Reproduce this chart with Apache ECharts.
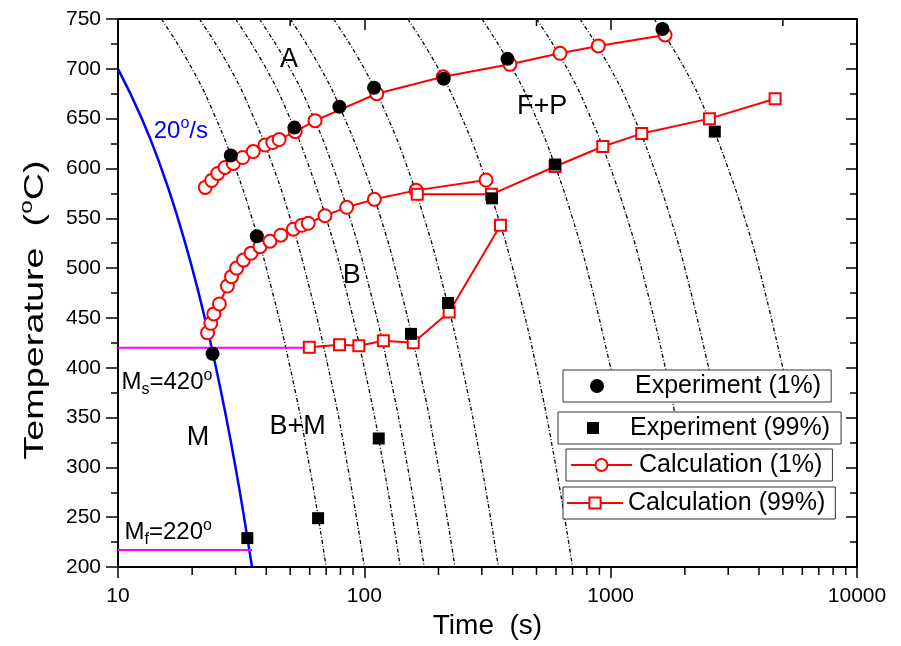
<!DOCTYPE html>
<html><head><meta charset="utf-8">
<script src="https://cdn.jsdelivr.net/npm/echarts@6/dist/echarts.min.js"></script>
<style>html,body{margin:0;padding:0;background:#fff}#c{width:901px;height:646px}</style>
</head><body><div id="c"></div>
<script>
const FONT = '"Liberation Sans", Arial, Helvetica, sans-serif';

// ---- axes ----
const xMin = 10, xMax = 10000;
const yMin = 200, yMax = 750, yStep = 50;
const bottomMinorTicks = [20,30,40,50,60,70,80,90,200,300,400,500,600,700,800,900,2000,3000,4000,5000,6000,7000,8000,9000];
const topMinorTicks = [50, 500, 5000];

// ---- experiment points [time s, temperature C] ----
const exp1 = [[24.2,414],[28.7,613],[36.6,532],[52,641],[79.2,662],[109.5,681],[210,690],[381,710],[1622,740]];
const exp99 = [[33.5,229],[64.9,249],[114.4,329],[154.7,434],[218.7,465],[330,570],[595,604],[2647,637]];

// ---- calculation points ----
const calc1Upper = [[22.6,581],[24.0,588],[25.4,595],[27.2,601],[29.4,605],[32.1,611],[35.4,617],[39.5,623.5],[42.5,626],[45.1,629],[52.4,637],[63.1,648],[112.3,675],[209,692],[390,704.5],[623,715.6],[891,723],[1663,734]];
const calc1Lower = [[23.1,435],[23.8,444.6],[24.5,454],[25.8,464],[27.8,482],[28.9,491.4],[30.3,500],[32.3,508],[34.7,515],[37.7,521.5],[41.4,527],[45.8,533],[51.5,539],[55.7,543],[59.2,545],[69.2,552.6],[84.8,561],[109.8,569],[162.2,578],[312,588.4]];
const calc99Lower = [[59.8,420.5],[79.3,423],[95,422],[119.5,427],[158,425],[221,456],[357,543]];
const calc99Upper = [[164,574],[328,574],[595,602],[929,622],[1337,635],[2517,650],[4651,670]];

// ---- cooling curves [time, temperature] ----
const cool20 = [[10,700],[12.5,650],[15,600],[17.5,550],[20,500],[22.5,450],[25,400],[27.5,350],[30,300],[32.5,250],[35,200]];
const cool10 = [[15,750],[20,700],[25,650],[30,600],[35,550],[40,500],[50,400],[60,300],[70,200]];
const cool7 = [[21.4,750],[28.6,700],[35.7,650],[42.9,600],[50,550],[57.1,500],[71.4,400],[85.7,300],[100,200]];
const cool5 = [[30,750],[40,700],[50,650],[60,600],[70,550],[80,500],[100,400],[120,300],[140,200]];
const cool4 = [[37.5,750],[50,700],[62.5,650],[75,600],[87.5,550],[100,500],[125,400],[150,300],[175,200]];
const cool3 = [[50,750],[66.7,700],[83.3,650],[100,600],[116.7,550],[133.3,500],[166.7,400],[200,300],[233.3,200]];
const cool2 = [[75,750],[100,700],[125,650],[150,600],[175,550],[200,500],[250,400],[300,300],[350,200]];
const cool1 = [[150,750],[200,700],[250,650],[300,600],[350,550],[400,500],[500,400],[600,300],[700,200]];
const cool05 = [[300,750],[400,700],[500,650],[600,600],[700,550],[800,500],[1000,400],[1040,380]];
const cool03 = [[500,750],[667,700],[833,650],[1000,600],[1167,550],[1333,500],[1667,400],[1867,340]];
const cool02 = [[750,750],[1000,700],[1250,650],[1500,600],[1750,550],[2000,500],[2500,400],[2600,380]];
const cool01 = [[1500,750],[2000,700],[2500,650],[3000,600],[3500,550],[4000,500],[5000,400],[5200,380]];
const blackCurves = [cool10, cool7, cool5, cool4, cool3, cool2, cool1, cool05, cool03, cool02, cool01];

// ---- Ms / Mf lines ----
const msLine = [[10,420],[57.5,420]];
const mfLine = [[10,217],[35,217]];

// ---- annotations ----
const phaseLabels = ['A','F+P','B','B+M','M'];
const phasePos = [[49.5,709],[527,662],[89,493],[53.6,340.5],[21.1,329.5]];
const rateLabelPos = [18.0,637.6];
const msLabelPos = [10.28,385.5];
const mfLabelPos = [10.58,235];

const legendNames = ['Experiment (1%)','Experiment (99%)','Calculation (1%)','Calculation (99%)'];

const richSS = {
  n: {fontSize: 24, fontFamily: FONT, lineHeight: 30, color: '#000'},
  sub: {fontSize: 16, fontFamily: FONT, lineHeight: 30, verticalAlign: 'bottom', color: '#000'},
  sup: {fontSize: 16, fontFamily: FONT, lineHeight: 30, verticalAlign: 'top', color: '#000'}
};
const richBlue = {
  n: {fontSize: 24, fontFamily: FONT, lineHeight: 30, color: '#0000ff'},
  sup: {fontSize: 16, fontFamily: FONT, lineHeight: 30, verticalAlign: 'top', color: '#0000ff'}
};

const series = [];
blackCurves.forEach(c => series.push({
  type: 'line', data: c, smooth: true, symbol: 'none', silent: true, z: 1,
  lineStyle: {color: '#000', width: 1.3, type: [4,2,1,2]}
}));
series.push({type:'line', data: cool20, smooth: true, symbol:'none', silent:true, z:2,
  lineStyle:{color:'#0000ff', width:2.5}});
series.push({type:'line', data: msLine, symbol:'none', silent:true, z:2, lineStyle:{color:'#ff00ff', width:2}});
series.push({type:'line', data: mfLine, symbol:'none', silent:true, z:2, lineStyle:{color:'#ff00ff', width:2}});

const calcStyle = (d, sym, size) => ({
  name: sym === 'emptyCircle' ? legendNames[2] : legendNames[3],
  type: 'line', data: d, symbol: sym, symbolSize: size, z: 3,
  lineStyle: {color: '#ff0000', width: 2}, itemStyle: {color: '#ff0000', borderWidth: 1.6, opacity: 1}
});
series.push(calcStyle(calc1Upper, 'emptyCircle', 13));
series.push(calcStyle(calc1Lower, 'emptyCircle', 13));
series.push(calcStyle(calc99Lower, 'emptyRect', 11));
series.push(calcStyle(calc99Upper, 'emptyRect', 11));
series.push({name: legendNames[0], type:'scatter', data: exp1, symbol:'circle', symbolSize:14, z:4, itemStyle:{color:'#000', opacity:1}});
series.push({name: legendNames[1], type:'scatter', data: exp99, symbol:'rect', symbolSize:12, z:4, itemStyle:{color:'#000', opacity:1}});

const annoItem = {color:'rgba(0,0,0,0)', opacity:1};
// phase annotations
series.push({type:'scatter', silent:true, z:5, symbolSize:1, itemStyle: annoItem,
  data: phasePos.map((p,i)=>({value:p, label:{formatter: phaseLabels[i]}})),
  label:{show:true, position:'inside', fontSize:27, fontFamily:FONT, color:'#000', opacity:1}});
series.push({type:'scatter', silent:true, z:5, symbolSize:1, itemStyle: annoItem,
  data: [{value: rateLabelPos, label:{formatter:'{n|20}{sup|o}{n|/s}', rich: richBlue}}],
  label:{show:true, position:'inside', opacity:1}});
series.push({type:'scatter', silent:true, z:5, symbolSize:1, itemStyle: annoItem,
  data: [
    {value: msLabelPos, label:{formatter:'{n|M}{sub|s}{n|=420}{sup|o}'}},
    {value: mfLabelPos, label:{formatter:'{n|M}{sub|f}{n|=220}{sup|o}'}}
  ],
  label:{show:true, position:'right', distance:0, rich: richSS, opacity:1}});

// log minor ticks
series.push({type:'custom', silent:true, z:6, clip:false, data: bottomMinorTicks.map(t=>[t, yMin]),
  renderItem: (params, api) => {
    const p = api.coord([api.value(0), api.value(1)]);
    return {type:'line', shape:{x1:p[0], y1:p[1], x2:p[0], y2:p[1]+8}, style:{stroke:'#000', lineWidth:1.5}};
  }});
series.push({type:'custom', silent:true, z:6, clip:false, data: topMinorTicks.map(t=>[t, yMax]),
  renderItem: (params, api) => {
    const p = api.coord([api.value(0), api.value(1)]);
    return {type:'line', shape:{x1:p[0], y1:p[1], x2:p[0], y2:p[1]+7}, style:{stroke:'#000', lineWidth:1.5}};
  }});

const axisLine = {show:true, lineStyle:{color:'#000', width:2}};
const legendBase = {
  orient:'horizontal', selectedMode:false, backgroundColor:'#fff', borderColor:'#333', borderWidth:1, borderRadius:0,
  itemGap:0, z: 10
};
const lt = (pl) => ({fontSize:25, fontFamily:FONT, color:'#000', lineHeight:26, padding:[0,0,0,pl]});

const option = {
  animation: false,
  backgroundColor: '#fff',
  grid: {left:118, right:44, top:19, bottom:79, containLabel:false},
  xAxis: [
    {type:'log', logBase:10, min:xMin, max:xMax, position:'bottom',
      axisLine, axisTick:{show:true, inside:false, length:11, lineStyle:{width:1.5, color:'#000'}},
      axisLabel:{fontSize:21, fontFamily:FONT, color:'#000', margin:19, formatter: v => String(Math.round(v))},
      splitLine:{show:false},
      name:'Time  (s)', nameLocation:'middle', nameGap:44,
      nameTextStyle:{fontSize:28, fontFamily:FONT, color:'#000'}},
    {type:'log', logBase:10, min:xMin, max:xMax, position:'top',
      axisLine, axisTick:{show:true, inside:true, length:11, lineStyle:{width:1.5, color:'#000'}},
      axisLabel:{show:false}, splitLine:{show:false}}
  ],
  yAxis: [
    {type:'value', min:yMin, max:yMax, interval:yStep, position:'left',
      axisLine, axisTick:{show:true, inside:false, length:12, lineStyle:{width:1.5, color:'#000'}},
      minorTick:{show:true, splitNumber:2, length:7, lineStyle:{width:1.5, color:'#000'}},
      axisLabel:{fontSize:21, fontFamily:FONT, color:'#000', margin:17},
      splitLine:{show:false}},
    {type:'value', min:yMin, max:yMax, interval:yStep, position:'right',
      axisLine, axisTick:{show:true, inside:true, length:11, lineStyle:{width:1.5, color:'#000'}},
      minorTick:{show:true, splitNumber:2, length:7, lineStyle:{width:1.5, color:'#000'}},
      axisLabel:{show:false}, splitLine:{show:false}}
  ],
  legend: [
    Object.assign({}, legendBase, {data:[legendNames[0]], left:563, top:370, padding:[3,10,3,27],
      itemWidth:14, itemHeight:14, textStyle: lt(26)}),
    Object.assign({}, legendBase, {data:[legendNames[1]], left:558, top:412, padding:[3,11,3,29],
      itemWidth:12, itemHeight:12, textStyle: lt(26)}),
    Object.assign({}, legendBase, {data:[legendNames[2]], left:566, top:449, padding:[3,10,3,4],
      itemWidth:61, itemHeight:15, textStyle: lt(2)}),
    Object.assign({}, legendBase, {data:[legendNames[3]], left:563, top:487, padding:[3,10,3,3],
      itemWidth:56, itemHeight:14, textStyle: lt(0)})
  ],
  graphic: [
    {type:'text', x:35, y:310, rotation: Math.PI/2, scaleX:1.35, z:10,
      style:{text:'{n|Temperature  (}{sup|o}{n|C)}', align:'center', verticalAlign:'middle',
        rich:{n:{fontSize:28, fontFamily:FONT, fill:'#000', lineHeight:34},
              sup:{fontSize:18, fontFamily:FONT, fill:'#000', lineHeight:34, verticalAlign:'top'}}}}
  ],
  series
};
const chart = echarts.init(document.getElementById('c'), null, {renderer:'canvas'});
chart.setOption(option);
</script>
</body></html>
